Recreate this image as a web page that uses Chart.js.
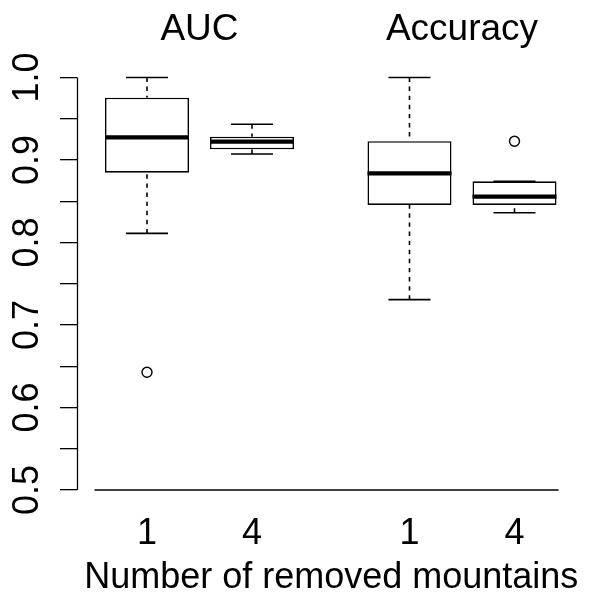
<!DOCTYPE html>
<html>
<head>
<meta charset="utf-8">
<script src="https://cdn.jsdelivr.net/npm/chart.js@4.4.1/dist/chart.umd.min.js"></script>
<style>
  html, body { margin: 0; padding: 0; background: #ffffff; }
  canvas { display: block; }
</style>
</head>
<body>
<canvas id="chart" width="593" height="595" style="width:593px;height:595px"></canvas>
<script>
// ---------------- data ----------------
const groupTitles   = ['AUC', 'Accuracy'];
const xTickLabels   = ['1', '4', '1', '4'];
const boxPositions  = [1, 2, 3.5, 4.5];
const groupCenters  = [1.5, 4.0];
const whiskerLow    = [0.8111, 0.9073, 0.7307, 0.8361];
const quartile1     = [0.8846, 0.9130, 0.8455, 0.8455];
const medians       = [0.9275, 0.9222, 0.8839, 0.8555];
const quartile3     = [0.9755, 0.9282, 0.9227, 0.8742];
const whiskerHigh   = [1.0000, 0.9433, 1.0000, 0.8742];
const outlierValues = [[0.6427], [], [], [0.9227]];
const yTickValues   = [0.5, 0.55, 0.6, 0.65, 0.7, 0.75, 0.8, 0.85, 0.9, 0.95, 1.0];
const yLabelled     = [0.5, 0.6, 0.7, 0.8, 0.9, 1.0];
const refLineValue  = 0.5;
const refLineSpan   = [0.5, 4.92];
const xAxisTitle    = 'Number of removed mountains';

// ---------------- style ----------------
const FONT = "'Liberation Sans', Arial, Helvetica, sans-serif";
const BOX_HALF = 0.4;   // half of R's boxwex 0.8
const CAP_HALF = 0.2;   // staple width = half box width
const X_MIN = 0.3286, X_MAX = 5.181;
const Y_MIN = 0.48,   Y_MAX = 1.02;
const LW = 1.6;

// ---------------- build datasets from the arrays ----------------
const whiskerData = [], capData = [], medianData = [], boxData = [], outlierData = [];
boxPositions.forEach((p, i) => {
  whiskerData.push({x: p, y: whiskerHigh[i]}, {x: p, y: quartile3[i]}, {x: p, y: null});
  whiskerData.push({x: p, y: whiskerLow[i]},  {x: p, y: quartile1[i]}, {x: p, y: null});
  capData.push({x: p - CAP_HALF, y: whiskerHigh[i]}, {x: p + CAP_HALF, y: whiskerHigh[i]}, {x: p, y: null});
  capData.push({x: p - CAP_HALF, y: whiskerLow[i]},  {x: p + CAP_HALF, y: whiskerLow[i]},  {x: p, y: null});
  medianData.push({x: p - BOX_HALF, y: medians[i]}, {x: p + BOX_HALF, y: medians[i]}, {x: p, y: null});
  boxData.push({x: p, y: [quartile1[i], quartile3[i]]});
  outlierValues[i].forEach(v => outlierData.push({x: p, y: v}));
});
const refData = [{x: refLineSpan[0], y: refLineValue}, {x: refLineSpan[1], y: refLineValue}];

const axisLinePlugin = {
  id: 'axisLine',
  afterDraw(chart) {
    const {ctx, chartArea, scales} = chart;
    const y = scales.y;
    const x = Math.round(chartArea.left) + 0.5;
    ctx.save();
    ctx.strokeStyle = '#000';
    ctx.lineWidth = 1.3;
    ctx.beginPath();
    ctx.moveTo(x, y.getPixelForValue(yTickValues[0]));
    ctx.lineTo(x, y.getPixelForValue(yTickValues[yTickValues.length - 1]));
    ctx.stroke();
    ctx.restore();
  }
};

const lineCommon = {type: 'line', pointRadius: 0, pointHoverRadius: 0, fill: false,
                    spanGaps: false, borderColor: '#000', tension: 0, borderCapStyle: 'butt'};

new Chart(document.getElementById('chart'), {
  data: {
    datasets: [
      Object.assign({}, lineCommon, {label: 'medians', data: medianData, borderWidth: 4.2, order: 0}),
      {type: 'scatter', label: 'outliers', data: outlierData, order: 1,
       pointStyle: 'circle', pointRadius: 5, pointHoverRadius: 5,
       pointBackgroundColor: 'rgba(255,255,255,0)', pointBorderColor: '#000', pointBorderWidth: 1.4},
      {type: 'bar', label: 'boxes', data: boxData, order: 2,
       backgroundColor: '#ffffff', borderColor: '#000', borderWidth: LW, borderSkipped: false,
       barPercentage: 0.8, categoryPercentage: 1.0},
      Object.assign({}, lineCommon, {label: 'caps', data: capData, borderWidth: LW, order: 3}),
      Object.assign({}, lineCommon, {label: 'whiskers', data: whiskerData, borderWidth: LW,
        borderDash: [4.4, 4.7], order: 4}),
      Object.assign({}, lineCommon, {label: 'reference', data: refData, borderWidth: LW, order: 5})
    ]
  },
  options: {
    responsive: false,
    animation: false,
    devicePixelRatio: 1,
    events: [],
    layout: {padding: {top: 0, right: 7, bottom: 0, left: 0}},
    plugins: {legend: {display: false}, tooltip: {enabled: false}, title: {display: false}},
    scales: {
      x: {
        type: 'linear', position: 'bottom', min: X_MIN, max: X_MAX, offset: false,
        afterBuildTicks: s => { s.ticks = boxPositions.map(v => ({value: v})); },
        ticks: {autoSkip: false, minRotation: 0, maxRotation: 0, padding: 6, color: '#000',
                font: {family: FONT, size: 36},
                callback: (v, i) => xTickLabels[i]},
        grid: {display: false, drawTicks: false, offset: false},
        border: {display: false},
        title: {display: true, text: xAxisTitle, color: '#000',
                font: {family: FONT, size: 36, lineHeight: 1}, padding: {top: 0, bottom: -1}},
        afterFit: s => { s.height = 88.5; }
      },
      x2: {
        type: 'linear', position: 'top', min: X_MIN, max: X_MAX, offset: false,
        afterBuildTicks: s => { s.ticks = groupCenters.map(v => ({value: v})); },
        ticks: {autoSkip: false, minRotation: 0, maxRotation: 0, padding: 9, color: '#000',
                font: {family: FONT, size: 37},
                callback: (v, i) => groupTitles[i]},
        grid: {display: false, drawTicks: false},
        border: {display: false},
        afterFit: s => { s.height = 61; }
      },
      y: {
        type: 'linear', position: 'left', min: Y_MIN, max: Y_MAX,
        afterBuildTicks: s => { s.ticks = yTickValues.map(v => ({value: v})); },
        ticks: {autoSkip: false, minRotation: 90, maxRotation: 90, crossAlign: 'center',
                padding: 7, color: '#000', font: {family: FONT, size: 36},
                callback: v => yLabelled.some(t => Math.abs(t - v) < 1e-9) ? v.toFixed(1) : ''},
        grid: {display: true, drawOnChartArea: false, drawTicks: true, tickLength: 16.5,
               color: '#000', lineWidth: 1.3},
        border: {display: false},
        afterFit: s => { s.width = 76.5; }
      }
    }
  },
  plugins: [axisLinePlugin]
});
</script>
</body>
</html>
